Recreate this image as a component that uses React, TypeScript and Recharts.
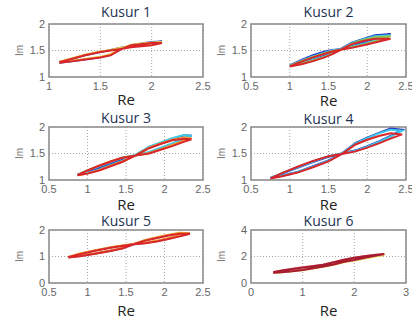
import { LineChart, Line, XAxis, YAxis, CartesianGrid, ReferenceArea } from "recharts";

// Kusur 1
const re1 = [1.1, 1.2, 1.35, 1.5, 1.6, 1.7, 1.8, 1.9, 2.0, 2.1, 2.0, 1.9, 1.8, 1.7, 1.6, 1.5, 1.35, 1.2, 1.1];
const blue1 = [1.28, 1.33, 1.41, 1.47, 1.51, 1.55, 1.58, 1.61, 1.64, 1.67, 1.66, 1.63, 1.60, 1.53, 1.42, 1.37, 1.33, 1.29, 1.27];
const yellow1 = [1.29, 1.34, 1.42, 1.48, 1.51, 1.55, 1.58, 1.61, 1.63, 1.66, 1.65, 1.63, 1.61, 1.54, 1.43, 1.38, 1.34, 1.30, 1.28];
const red1 = [1.28, 1.33, 1.41, 1.47, 1.50, 1.53, 1.56, 1.58, 1.60, 1.64, 1.64, 1.62, 1.60, 1.52, 1.41, 1.37, 1.33, 1.29, 1.27];

// Kusur 2
const re2 = [1.0, 1.15, 1.3, 1.45, 1.55, 1.67, 1.8, 1.95, 2.1, 2.3, 2.1, 1.95, 1.8, 1.67, 1.55, 1.45, 1.3, 1.15, 1.0];
const blue2 = [1.22, 1.32, 1.41, 1.48, 1.51, 1.53, 1.58, 1.65, 1.72, 1.81, 1.79, 1.72, 1.65, 1.54, 1.46, 1.40, 1.33, 1.27, 1.22];
const cyan2 = [1.21, 1.31, 1.39, 1.46, 1.50, 1.53, 1.57, 1.63, 1.69, 1.79, 1.77, 1.71, 1.64, 1.53, 1.45, 1.39, 1.32, 1.26, 1.21];
const green2 = [1.21, 1.30, 1.38, 1.45, 1.49, 1.52, 1.56, 1.61, 1.67, 1.77, 1.75, 1.70, 1.63, 1.52, 1.44, 1.38, 1.31, 1.25, 1.21];
const red2 = [1.20, 1.29, 1.37, 1.44, 1.48, 1.52, 1.55, 1.60, 1.65, 1.72, 1.72, 1.68, 1.62, 1.52, 1.43, 1.37, 1.30, 1.24, 1.20];

// Kusur 3
const re3 = [0.87, 1.0, 1.15, 1.3, 1.45, 1.62, 1.8, 1.95, 2.1, 2.25, 2.35, 2.25, 2.1, 1.95, 1.8, 1.62, 1.45, 1.3, 1.15, 1.0, 0.87];
const blue3 = [1.10, 1.17, 1.25, 1.33, 1.41, 1.46, 1.52, 1.60, 1.68, 1.77, 1.84, 1.84, 1.78, 1.70, 1.62, 1.47, 1.37, 1.29, 1.21, 1.14, 1.10];
const cyan3 = [1.10, 1.18, 1.26, 1.34, 1.42, 1.47, 1.53, 1.61, 1.69, 1.78, 1.83, 1.85, 1.79, 1.71, 1.63, 1.47, 1.36, 1.28, 1.20, 1.13, 1.10];
const orange3 = [1.09, 1.18, 1.27, 1.35, 1.42, 1.46, 1.51, 1.58, 1.66, 1.74, 1.79, 1.80, 1.76, 1.69, 1.61, 1.46, 1.35, 1.27, 1.19, 1.12, 1.09];
const red3 = [1.09, 1.18, 1.27, 1.35, 1.42, 1.46, 1.50, 1.57, 1.64, 1.72, 1.77, 1.78, 1.75, 1.68, 1.60, 1.46, 1.34, 1.26, 1.18, 1.12, 1.09];

// Kusur 4
const re4 = [0.75, 0.9, 1.1, 1.3, 1.5, 1.67, 1.85, 2.0, 2.15, 2.3, 2.45, 2.3, 2.15, 2.0, 1.85, 1.67, 1.5, 1.3, 1.1, 0.9, 0.75];
const blue4 = [1.04, 1.12, 1.23, 1.34, 1.44, 1.50, 1.56, 1.64, 1.73, 1.83, 1.95, 1.97, 1.89, 1.80, 1.70, 1.50, 1.37, 1.26, 1.15, 1.08, 1.04];
const cyan4 = [1.04, 1.13, 1.24, 1.35, 1.45, 1.50, 1.55, 1.63, 1.72, 1.82, 1.93, 1.95, 1.88, 1.79, 1.69, 1.50, 1.36, 1.25, 1.15, 1.08, 1.04];
const red4 = [1.03, 1.13, 1.25, 1.36, 1.45, 1.49, 1.54, 1.61, 1.69, 1.78, 1.86, 1.88, 1.83, 1.76, 1.67, 1.49, 1.35, 1.24, 1.14, 1.07, 1.03];

// Kusur 5
const re5 = [0.75, 0.9, 1.1, 1.3, 1.45, 1.6, 1.75, 1.9, 2.05, 2.2, 2.33, 2.2, 2.05, 1.9, 1.75, 1.6, 1.45, 1.3, 1.1, 0.9, 0.75];
const purple5 = [0.97, 1.10, 1.23, 1.34, 1.41, 1.46, 1.51, 1.58, 1.67, 1.78, 1.87, 1.88, 1.80, 1.71, 1.61, 1.46, 1.31, 1.22, 1.11, 1.02, 0.97];
const orange5 = [0.98, 1.11, 1.24, 1.35, 1.42, 1.47, 1.52, 1.60, 1.70, 1.80, 1.88, 1.90, 1.82, 1.73, 1.62, 1.47, 1.32, 1.23, 1.12, 1.03, 0.98];
const red5 = [0.97, 1.09, 1.22, 1.33, 1.40, 1.46, 1.50, 1.57, 1.66, 1.76, 1.86, 1.86, 1.79, 1.70, 1.60, 1.46, 1.30, 1.21, 1.10, 1.01, 0.96];

// Kusur 6
const re6 = [0.43, 0.6, 0.8, 1.0, 1.2, 1.4, 1.6, 1.8, 2.0, 2.2, 2.4, 2.58, 2.4, 2.2, 2.0, 1.8, 1.6, 1.4, 1.2, 1.0, 0.8, 0.6, 0.43];
const yellow6 = [0.81, 0.93, 1.04, 1.15, 1.25, 1.36, 1.53, 1.71, 1.86, 1.98, 2.08, 2.12, 1.99, 1.84, 1.69, 1.56, 1.37, 1.22, 1.10, 0.97, 0.88, 0.81, 0.77];
const pink6 = [0.83, 0.95, 1.07, 1.18, 1.28, 1.39, 1.57, 1.76, 1.91, 2.03, 2.13, 2.19, 2.07, 1.92, 1.76, 1.62, 1.42, 1.26, 1.14, 1.00, 0.90, 0.83, 0.79];
const maroon6 = [0.82, 0.94, 1.06, 1.17, 1.27, 1.38, 1.56, 1.75, 1.90, 2.02, 2.12, 2.18, 2.05, 1.90, 1.74, 1.60, 1.40, 1.24, 1.12, 0.98, 0.89, 0.82, 0.78];

// axis ticks
const xTicks1 = [1, 1.5, 2, 2.5];
const xTicksMid = [0.5, 1, 1.5, 2, 2.5];
const xTicks6 = [0, 1, 2, 3];
const yTicksA = [1, 1.5, 2];
const yTicks5 = [0, 1, 2];
const yTicks6 = [0, 2, 4];

const titles = ["Kusur 1", "Kusur 2", "Kusur 3", "Kusur 4", "Kusur 5", "Kusur 6"];

const RED = "#d8262a";
const W = 212;
const H = 113;
const PLOT_H = 53;

type Series = { color: string; im: number[] };
type Panel = {
  title: string;
  re: number[];
  series: Series[];
  xTicks: number[];
  yTicks: number[];
  boxLeft: number;
  boxTop: number;
  plotW: number;
  titleY: number;
  reGap: number;
};

const panels: Panel[] = [
  {
    title: titles[0], re: re1, xTicks: xTicks1, yTicks: yTicksA,
    series: [{ color: "#3048c8", im: blue1 }, { color: "#e8c840", im: yellow1 }, { color: RED, im: red1 }],
    boxLeft: 49, boxTop: 24, plotW: 154, titleY: 12, reGap: 22,
  },
  {
    title: titles[1], re: re2, xTicks: xTicksMid, yTicks: yTicksA,
    series: [
      { color: "#2a3cc8", im: blue2 }, { color: "#3cc8e6", im: cyan2 },
      { color: "#8cc850", im: green2 }, { color: RED, im: red2 },
    ],
    boxLeft: 251, boxTop: 24, plotW: 155, titleY: 12, reGap: 23,
  },
  {
    title: titles[2], re: re3, xTicks: xTicksMid, yTicks: yTicksA,
    series: [
      { color: "#2a3cc8", im: blue3 }, { color: "#3cc8e6", im: cyan3 },
      { color: "#f0a030", im: orange3 }, { color: RED, im: red3 },
    ],
    boxLeft: 49, boxTop: 127, plotW: 154, titleY: 118, reGap: 24,
  },
  {
    title: titles[3], re: re4, xTicks: xTicksMid, yTicks: yTicksA,
    series: [{ color: "#2a3cc8", im: blue4 }, { color: "#3cc8e6", im: cyan4 }, { color: RED, im: red4 }],
    boxLeft: 251, boxTop: 127, plotW: 155, titleY: 119, reGap: 24,
  },
  {
    title: titles[4], re: re5, xTicks: xTicksMid, yTicks: yTicks5,
    series: [{ color: "#7050a8", im: purple5 }, { color: "#f0a030", im: orange5 }, { color: RED, im: red5 }],
    boxLeft: 49, boxTop: 230, plotW: 154, titleY: 221, reGap: 27,
  },
  {
    title: titles[5], re: re6, xTicks: xTicks6, yTicks: yTicks6,
    series: [{ color: "#e8d84a", im: yellow6 }, { color: "#e58aa0", im: pink6 }, { color: "#a81c30", im: maroon6 }],
    boxLeft: 251, boxTop: 230, plotW: 155, titleY: 221, reGap: 27,
  },
];

function toRows(re: number[], series: Series[]) {
  return re.map((x, i) => {
    const row: Record<string, number> = { re: x };
    series.forEach((s, k) => {
      row["s" + k] = s.im[i];
    });
    return row;
  });
}

const tickStyle = { fontSize: 11, fill: "#666", fontFamily: '"Liberation Sans", Arial, sans-serif' };

function KusurPanel({ p }: { p: Panel }) {
  const rows = toRows(p.re, p.series);
  const left = p.boxLeft - 49;
  const top = p.boxTop - 24;
  const xMin = p.xTicks[0];
  const xMax = p.xTicks[p.xTicks.length - 1];
  const yMin = p.yTicks[0];
  const yMax = p.yTicks[p.yTicks.length - 1];
  const xAxisH = 34;
  return (
    <div style={{ position: "absolute", left, top, width: W, height: H }}>
      <div
        style={{
          position: "absolute",
          left: 49,
          width: p.plotW,
          top: p.titleY - top - 8.5,
          textAlign: "center",
          fontFamily: '"Open Sans", sans-serif',
          fontSize: 14,
          lineHeight: "16px",
          color: "#1c3354",
          whiteSpace: "nowrap",
        }}
      >
        {p.title}
      </div>
      <LineChart
        width={W}
        height={H}
        data={rows}
        margin={{ top: 24, left: 13, right: W - 49 - p.plotW, bottom: H - 24 - PLOT_H - xAxisH }}
      >
        <CartesianGrid strokeDasharray="1 2" stroke="#a8a8a8" />
        <XAxis
          type="number"
          dataKey="re"
          domain={[xMin, xMax]}
          ticks={p.xTicks}
          allowDataOverflow
          height={xAxisH}
          tick={tickStyle}
          tickLine={false}
          axisLine={false}
          tickSize={3}
          tickMargin={2}
          label={{
            value: "Re",
            position: "insideBottom",
            offset: xAxisH - p.reGap - 5.5,
            style: { fontSize: 15, fill: "#222", fontFamily: '"Open Sans", sans-serif' },
          }}
        />
        <YAxis
          type="number"
          domain={[yMin, yMax]}
          ticks={p.yTicks}
          allowDataOverflow
          width={36}
          tick={tickStyle}
          tickLine={false}
          axisLine={false}
          tickSize={2}
          tickMargin={2}
          label={{
            value: "Im",
            angle: -90,
            position: "insideLeft",
            offset: 6,
            style: { fontSize: 10, fill: "#777", textAnchor: "middle", fontFamily: '"Liberation Sans", Arial, sans-serif' },
          }}
        />
        <ReferenceArea x1={xMin} x2={xMax} y1={yMin} y2={yMax} fill="none" stroke="#8a8a8a" strokeWidth={1.5} />
        {p.series.map((s, k) => (
          <Line
            key={k}
            type="linear"
            dataKey={"s" + k}
            stroke={s.color}
            strokeWidth={2}
            dot={false}
            isAnimationActive={false}
          />
        ))}
      </LineChart>
    </div>
  );
}

export default function App() {
  return (
    <div
      style={{
        position: "absolute",
        left: 0,
        top: 0,
        width: 412,
        height: 319,
        overflow: "hidden",
        background: "#fff",
      }}
    >
      {panels.map((p) => (
        <KusurPanel key={p.title} p={p} />
      ))}
    </div>
  );
}
